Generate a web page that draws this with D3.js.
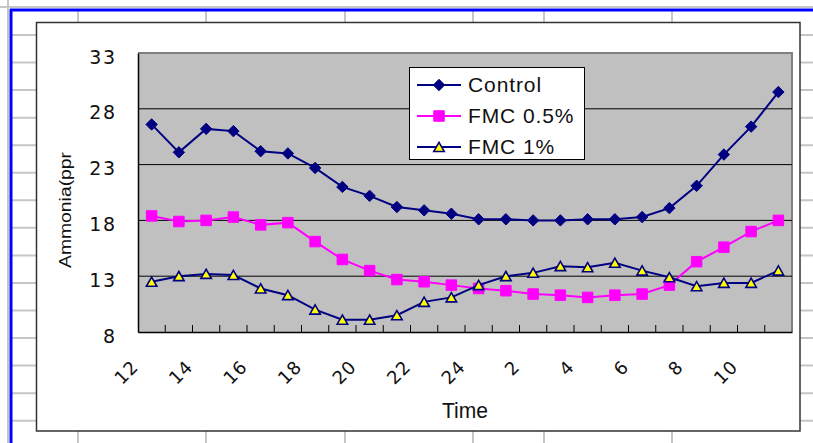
<!DOCTYPE html>
<html>
<head>
<meta charset="utf-8">
<script src="https://cdn.jsdelivr.net/npm/d3@7"></script>
<style>
  body { margin: 0; background: #fff; }
  svg { display: block; }
</style>
</head>
<body>
<div id="chart"></div>
<script>
// hours of sampling, starting at noon
var hours = ["12","13","14","15","16","17","18","19","20","21","22","23","24",
             "1","2","3","4","5","6","7","8","9","10","11"];
var xTickLabels = ["12","14","16","18","20","22","24","2","4","6","8","10"];
var yTicks = [8, 13, 18, 23, 28, 33];

var control = [26.6,24.1,26.2,26.0,24.2,24.0,22.7,21.0,20.2,19.2,18.9,18.6,
               18.1,18.1,18.0,18.0,18.1,18.1,18.3,19.1,21.1,23.9,26.4,29.5];
var fmc05   = [18.4,17.9,18.0,18.3,17.6,17.8,16.1,14.5,13.5,12.7,12.5,12.2,
               11.9,11.7,11.4,11.3,11.1,11.3,11.4,12.2,14.3,15.6,17.0,18.0];
var fmc1    = [12.5,13.0,13.2,13.1,11.9,11.3,10.0,9.1,9.1,9.5,10.7,11.1,
               12.2,13.0,13.3,13.9,13.8,14.2,13.5,12.9,12.1,12.4,12.4,13.5];
var seriesNames = ["Control", "FMC 0.5%", "FMC 1%"];

var W = 813, H = 443;
var navy = "#000080", pink = "#ff00ff";

// excel style markers
var diamond = { draw: function(ctx, s) { var r = Math.sqrt(s) / 2;
  ctx.moveTo(0, -r); ctx.lineTo(r, 0); ctx.lineTo(0, r); ctx.lineTo(-r, 0); ctx.closePath(); } };
var square = { draw: function(ctx, s) { var r = Math.sqrt(s) / 2;
  ctx.rect(-r, -r, 2 * r, 2 * r); } };
var triangle = { draw: function(ctx, s) { var r = Math.sqrt(s) / 2;
  ctx.moveTo(0, -r * 0.9); ctx.lineTo(r, r * 0.85); ctx.lineTo(-r, r * 0.85); ctx.closePath(); } };

var series = [
  { name: seriesNames[0], values: control, line: navy, fill: navy, stroke: navy, type: diamond, size: 130 },
  { name: seriesNames[1], values: fmc05, line: pink, fill: pink, stroke: pink, type: square, size: 110 },
  { name: seriesNames[2], values: fmc1, line: navy, fill: "#ffff00", stroke: navy, type: triangle, size: 110 }
];

var svg = d3.select("#chart").append("svg")
  .attr("width", W).attr("height", H);

svg.append("rect").attr("width", W).attr("height", H).attr("fill", "#fff");

// spreadsheet behind the chart
var sheet = svg.append("g").attr("stroke", "#c6c6c6").attr("stroke-width", 2);
sheet.append("line").attr("x1", 0).attr("x2", W).attr("y1", 7).attr("y2", 7);
sheet.append("line").attr("x1", 8).attr("x2", 8).attr("y1", 0).attr("y2", H);
[78, 206, 345, 473, 544, 672].forEach(function(cx) {
  sheet.append("line").attr("x1", cx).attr("x2", cx).attr("y1", 10).attr("y2", H);
});
for (var k = 0; k < 15; k++) {
  var ry = 35 + 27.55 * k;
  sheet.append("line").attr("x1", 11).attr("x2", W).attr("y1", ry).attr("y2", ry);
}
svg.append("line").attr("x1", 10).attr("x2", W).attr("y1", 10).attr("y2", 10)
  .attr("stroke", "#0000ff").attr("stroke-width", 3);
svg.append("line").attr("x1", 11).attr("x2", 11).attr("y1", 9).attr("y2", H)
  .attr("stroke", "#0000ff").attr("stroke-width", 3);

// chart object
svg.append("rect")
  .attr("x", 36.5).attr("y", 22.5).attr("width", 763.5).attr("height", 408.5)
  .attr("fill", "#fff").attr("stroke", "#333").attr("stroke-width", 1.5);

var pLeft = 138, pRight = 792, pTop = 53, pBottom = 332;

var x = d3.scaleBand().domain(hours).range([pLeft, pRight]).padding(0);
var y = d3.scaleLinear().domain([8, 33]).range([pBottom, pTop]);
var bw = x.bandwidth();

// plot area
svg.append("rect")
  .attr("x", pLeft).attr("y", pTop).attr("width", pRight - pLeft).attr("height", pBottom - pTop)
  .attr("fill", "#c0c0c0");
svg.append("path")
  .attr("d", "M" + pLeft + "," + pTop + "H" + pRight + "V" + pBottom)
  .attr("fill", "none").attr("stroke", "#808080").attr("stroke-width", 2);

svg.selectAll(".grid")
  .data(yTicks.filter(function(d) { return d > 8 && d < 33; }))
  .enter().append("line")
  .attr("class", "grid")
  .attr("x1", pLeft).attr("x2", pRight)
  .attr("y1", function(d) { return y(d); })
  .attr("y2", function(d) { return y(d); })
  .attr("stroke", "#000").attr("stroke-width", 1);

// y axis
var yAxis = svg.append("g")
  .attr("transform", "translate(" + pLeft + ",0)")
  .call(d3.axisLeft(y).tickValues(yTicks).tickSize(0).tickSizeOuter(0));
yAxis.select(".domain").attr("stroke", "#000").attr("stroke-width", 1.5);
yAxis.selectAll("text")
  .attr("x", -21.5).attr("dy", null).attr("y", 10)
  .attr("fill", "#111")
  .style("font-family", "DejaVu Sans").style("font-size", "19px")
  .style("letter-spacing", "1.5px");

// x axis
var xAxis = svg.append("g")
  .attr("transform", "translate(0," + pBottom + ")")
  .call(d3.axisBottom(x).tickValues(xTickLabels).tickSize(0).tickSizeOuter(0));
xAxis.select(".domain").attr("stroke", "#000").attr("stroke-width", 1.5);
xAxis.selectAll("text")
  .attr("y", 0).attr("dy", null)
  .attr("text-anchor", "end")
  .attr("transform", "translate(-12,36) rotate(-45)")
  .attr("fill", "#111")
  .style("font-family", "DejaVu Sans").style("font-size", "18px")
  .style("letter-spacing", "1px");

// tick marks between categories, pointing into the plot
svg.selectAll(".xtick")
  .data(hours.slice(1))
  .enter().append("line")
  .attr("class", "xtick")
  .attr("x1", function(d) { return x(d); })
  .attr("x2", function(d) { return x(d); })
  .attr("y1", pBottom - 7).attr("y2", pBottom)
  .attr("stroke", "#000").attr("stroke-width", 1);

// series
var line = d3.line()
  .x(function(d, i) { return x(hours[i]) + bw / 2; })
  .y(function(d) { return y(d); });

series.forEach(function(s) {
  svg.append("path")
    .datum(s.values)
    .attr("d", line)
    .attr("fill", "none")
    .attr("stroke", s.line)
    .attr("stroke-width", 2);
  svg.selectAll(null)
    .data(s.values)
    .enter().append("path")
    .attr("d", d3.symbol().type(s.type).size(s.size))
    .attr("transform", function(d, i) {
      return "translate(" + (x(hours[i]) + bw / 2) + "," + y(d) + ")";
    })
    .attr("fill", s.fill)
    .attr("stroke", s.stroke)
    .attr("stroke-width", s.type === triangle ? 1.6 : 1);
});

// axis titles
svg.append("text")
  .attr("transform", "translate(71,210) rotate(-90)")
  .attr("text-anchor", "middle")
  .attr("textLength", 116).attr("lengthAdjust", "spacingAndGlyphs")
  .attr("fill", "#111")
  .style("font-family", "Liberation Sans, Arial").style("font-size", "17px")
  .text("Ammonia(ppr");

svg.append("text")
  .attr("x", 465).attr("y", 418)
  .attr("text-anchor", "middle")
  .attr("textLength", 46).attr("lengthAdjust", "spacingAndGlyphs")
  .attr("fill", "#111")
  .style("font-family", "Liberation Sans, Arial").style("font-size", "22px")
  .text("Time");

// legend
var legend = svg.append("g");
legend.append("rect")
  .attr("x", 409.5).attr("y", 67.5).attr("width", 175).attr("height", 92)
  .attr("fill", "#fff").attr("stroke", "#000").attr("stroke-width", 1);

var rows = legend.selectAll(".row")
  .data(series)
  .enter().append("g")
  .attr("class", "row")
  .attr("transform", function(d, i) { return "translate(0," + (85 + i * 31) + ")"; });
rows.append("line")
  .attr("x1", 417).attr("x2", 461)
  .attr("stroke", function(d) { return d.line; }).attr("stroke-width", 2);
rows.append("path")
  .attr("d", function(d) { return d3.symbol().type(d.type).size(d.size)(); })
  .attr("transform", "translate(439,0)")
  .attr("fill", function(d) { return d.fill; })
  .attr("stroke", function(d) { return d.stroke; })
  .attr("stroke-width", function(d) { return d.type === triangle ? 1.6 : 1; });
rows.append("text")
  .attr("x", 468).attr("y", 7)
  .attr("fill", "#111")
  .style("font-family", "Liberation Sans, Arial").style("font-size", "21px")
  .style("letter-spacing", "0.9px")
  .text(function(d) { return d.name; });
</script>
</body>
</html>
